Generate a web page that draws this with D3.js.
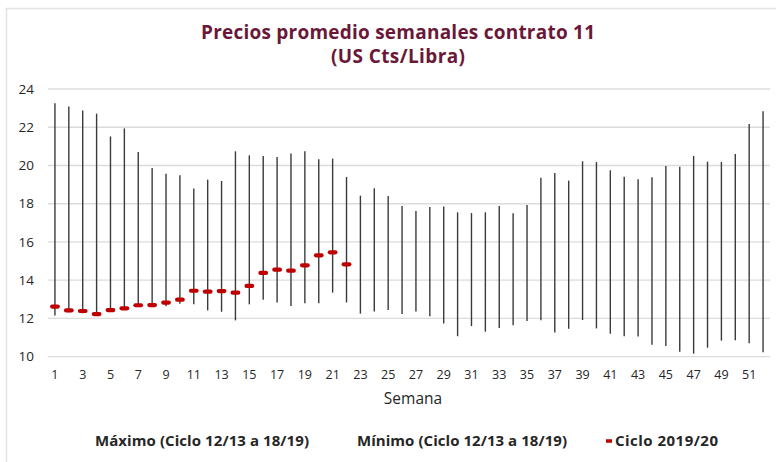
<!DOCTYPE html>
<html>
<head>
<meta charset="utf-8">
<script src="https://cdn.jsdelivr.net/npm/d3@7"></script>
<style>
  body { margin: 0; background: #fff; }
  svg { display: block; font-family: "Open Sans", sans-serif; }
</style>
</head>
<body>
<svg id="chart" width="776" height="462"></svg>
<script>
// datos
const semanas = d3.range(1, 53);
const maximo = [23.25, 23.08, 22.88, 22.71, 21.52, 21.94, 20.70, 19.87, 19.57, 19.49,
  18.79, 19.26, 19.19, 20.74, 20.53, 20.50, 20.44, 20.63, 20.74, 20.32,
  20.36, 19.40, 18.42, 18.81, 18.40, 17.88, 17.62, 17.83, 17.85, 17.55,
  17.51, 17.55, 17.88, 17.50, 17.93, 19.36, 19.61, 19.21, 20.22, 20.18,
  19.75, 19.41, 19.28, 19.38, 19.97, 19.94, 20.50, 20.20, 20.18, 20.60,
  22.17, 22.83];
const minimo = [12.16, 12.32, 12.27, 12.14, 12.44, 12.50, 12.62, 12.62, 12.64, 12.77,
  12.74, 12.42, 12.35, 11.90, 12.74, 12.98, 12.83, 12.65, 12.79, 12.79,
  13.35, 12.84, 12.25, 12.37, 12.44, 12.23, 12.37, 12.11, 11.74, 11.07,
  11.60, 11.31, 11.50, 11.64, 11.87, 11.90, 11.27, 11.46, 11.92, 11.48,
  11.20, 11.07, 11.05, 10.63, 10.56, 10.26, 10.16, 10.47, 10.84, 10.86,
  10.70, 10.23];
const ciclo2019 = [12.62, 12.42, 12.39, 12.23, 12.44, 12.53, 12.69, 12.70, 12.83, 12.98,
  13.45, 13.40, 13.43, 13.35, 13.70, 14.38, 14.55, 14.50, 14.78, 15.30,
  15.46, 14.83];
const yTicks = d3.range(10, 25, 2);

const ROJO = '#c00000';
const TEXTO = '#262626';

const $svg = d3.select('#chart');

// marco
$svg.append('path')
  .attr('d', 'M6.5,470 V8.5 H790')
  .attr('fill', 'none')
  .attr('stroke', '#e3e3e3')
  .attr('stroke-width', 1.5);

// título (ancho ajustado al de la fuente original)
const $titulo = $svg.append('text')
  .attr('text-anchor', 'middle')
  .attr('fill', '#6b1838')
  .attr('font-weight', 700)
  .attr('font-size', 19);
$titulo.append('tspan').attr('x', 398).attr('y', 39)
  .attr('textLength', 394).attr('lengthAdjust', 'spacing')
  .text('Precios promedio semanales contrato 11');
$titulo.append('tspan').attr('x', 398).attr('y', 63)
  .attr('textLength', 134).attr('lengthAdjust', 'spacing')
  .text('(US Cts/Libra)');

const x = d3.scalePoint().domain(semanas).range([48, 770]).padding(0.5);
const y = d3.scaleLinear().domain([10, 24]).range([356.7, 89]);

// rejilla
$svg.append('g')
  .selectAll('line')
  .data(yTicks)
  .join('line')
  .attr('x1', 48).attr('x2', 770)
  .attr('y1', d => y(d)).attr('y2', d => y(d))
  .attr('stroke', '#dcdcdc')
  .attr('stroke-width', 1.3);

// etiquetas eje y
$svg.append('g')
  .selectAll('text')
  .data(yTicks)
  .join('text')
  .attr('x', 34)
  .attr('y', d => y(d))
  .attr('dy', '0.35em')
  .attr('text-anchor', 'end')
  .attr('font-size', 13.5)
  .attr('fill', TEXTO)
  .text(d => d);

// etiquetas eje x (semanas impares)
$svg.append('g')
  .selectAll('text')
  .data(semanas.filter(d => d % 2 === 1))
  .join('text')
  .attr('x', d => x(d))
  .attr('y', 375)
  .attr('dy', '0.35em')
  .attr('text-anchor', 'middle')
  .attr('font-size', 12.5)
  .attr('fill', TEXTO)
  .text(d => d);

$svg.append('text')
  .attr('x', 413).attr('y', 399).attr('dy', '0.35em')
  .attr('text-anchor', 'middle')
  .attr('font-size', 15.5)
  .attr('fill', TEXTO)
  .text('Semana');

// barras máximo-mínimo
$svg.append('g')
  .selectAll('line')
  .data(semanas)
  .join('line')
  .attr('x1', d => x(d)).attr('x2', d => x(d))
  .attr('y1', (d, i) => y(maximo[i]))
  .attr('y2', (d, i) => y(minimo[i]))
  .attr('stroke', '#3a3a3a')
  .attr('stroke-width', 1.4);

// ciclo 2019/20
$svg.append('g')
  .selectAll('line')
  .data(ciclo2019)
  .join('line')
  .attr('x1', (d, i) => x(semanas[i]) - 2.8)
  .attr('x2', (d, i) => x(semanas[i]) + 2.8)
  .attr('y1', d => y(d)).attr('y2', d => y(d))
  .attr('stroke', ROJO)
  .attr('stroke-width', 4.2)
  .attr('stroke-linecap', 'round');

// leyenda
const $leyenda = $svg.append('g')
  .attr('font-size', 15)
  .attr('font-weight', 700)
  .attr('fill', TEXTO);
$leyenda.append('text').attr('x', 95).attr('y', 441).attr('dy', '0.35em')
  .attr('textLength', 214).attr('lengthAdjust', 'spacing')
  .text('Máximo (Ciclo 12/13 a 18/19)');
$leyenda.append('text').attr('x', 357).attr('y', 441).attr('dy', '0.35em')
  .attr('textLength', 210).attr('lengthAdjust', 'spacing')
  .text('Mínimo (Ciclo 12/13 a 18/19)');
$leyenda.append('line')
  .attr('x1', 606).attr('x2', 612).attr('y1', 441).attr('y2', 441)
  .attr('stroke', ROJO).attr('stroke-width', 3.5);
$leyenda.append('text').attr('x', 615).attr('y', 441).attr('dy', '0.35em')
  .attr('textLength', 103).attr('lengthAdjust', 'spacing')
  .text('Ciclo 2019/20');
</script>
</body>
</html>
